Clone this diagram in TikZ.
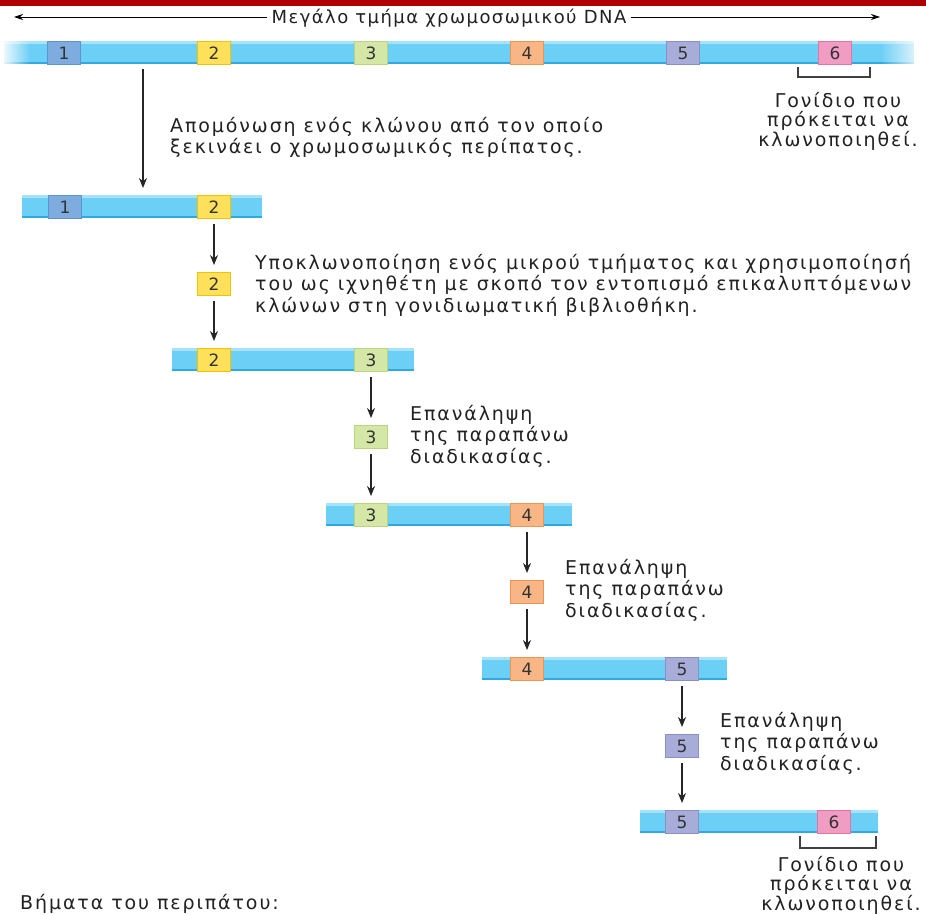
\documentclass[tikz,border=0pt]{standalone}
\usepackage{fontspec}
\setmainfont{DejaVu Sans}[LetterSpace=10]
\newfontfamily\labelfont{DejaVu Sans}[LetterSpace=8]
\newfontfamily\numfont{DejaVu Sans}
\usetikzlibrary{arrows.meta,fadings}
\definecolor{barblue}{HTML}{6CCFF6}
\definecolor{barhi}{HTML}{A6E3FA}
\definecolor{barlo}{HTML}{2FA9DE}
\definecolor{redtop}{HTML}{B00000}
\definecolor{numgray}{HTML}{333333}
\definecolor{txt}{HTML}{222222}
\definecolor{g1}{HTML}{7EACDF}\definecolor{g1d}{HTML}{5E93D3}
\definecolor{g2}{HTML}{FFE05A}\definecolor{g2d}{HTML}{F2C300}
\definecolor{g3}{HTML}{D5E7A6}\definecolor{g3d}{HTML}{B9D57E}
\definecolor{g4}{HTML}{F8B585}\definecolor{g4d}{HTML}{EF9450}
\definecolor{g5}{HTML}{A8ACD9}\definecolor{g5d}{HTML}{8A8FC6}
\definecolor{g6}{HTML}{F19CC2}\definecolor{g6d}{HTML}{E4739F}
\tikzfading[name=fadeLeft, left color=transparent!0, right color=transparent!100]
\tikzfading[name=fadeRight, left color=transparent!100, right color=transparent!0]
\newcommand{\dnabar}[3]{%
  \fill[barblue] (#1,#3) rectangle (#2,#3+23);
  \fill[barhi] (#1,#3) rectangle (#2,#3+3);
  \fill[barlo] (#1,#3+21) rectangle (#2,#3+23);}
\tikzset{
  gene/.style={minimum width=33pt, minimum height=23pt, inner sep=0pt,
    fill=g#1, draw=g#1d, line width=1pt, text=numgray, font=\numfont\fontsize{17}{20}\selectfont},
  arr/.style={draw=black!85, line width=1.2pt, -{Stealth[length=10pt,width=8pt]}, shorten <=5pt, shorten >=7pt},
  body/.style={text=txt, inner sep=0pt, font=\fontsize{19}{21.5}\selectfont},
  capt/.style={text=txt, inner sep=0pt, font=\fontsize{19}{19.5}\selectfont},
  brk/.style={draw=black!75, line width=1.1pt},
}
\begin{document}
\begin{tikzpicture}[x=1pt,y=-1pt]
\useasboundingbox (0,0) rectangle (926,915);
\fill[white] (0,0) rectangle (926,915);
\fill[redtop] (0,0) rectangle (926,6);
% top label
\node[font=\labelfont\fontsize{18}{20}\selectfont, text=txt, inner xsep=4pt, inner ysep=1pt] (toplbl) at (449,18) {Μεγάλο τμήμα χρωμοσωμικού DNA};
\coordinate (lt) at (14,17);
\coordinate (rt) at (880,17);
\draw[line width=0.9pt, -{Stealth[length=9pt,width=6pt]}] (toplbl.west |- lt) -- (lt);
\draw[line width=0.9pt, -{Stealth[length=9pt,width=6pt]}] (toplbl.east |- rt) -- (rt);
% top bar
\dnabar{0}{926}{41}
\node[gene=1] (t1) at (64,53) {1};
\node[gene=2] (t2) at (214,53) {2};
\node[gene=3] (t3) at (371,53) {3};
\node[gene=4] (t4) at (527,53) {4};
\node[gene=5] (t5) at (683,53) {5};
\node[gene=6] (t6) at (835,53) {6};
\fill[white, path fading=fadeLeft] (0,38) rectangle (30,68);
\fill[white, path fading=fadeRight] (880,38) rectangle (926,68);
\fill[white] (0,38) rectangle (4,68);
\fill[white] (914,38) rectangle (926,68);
\draw[brk] (798,67) -- (798,77) -- (870,77) -- (870,67);
\node[capt, align=center, anchor=north] (cap1) at (838,92) {Γονίδιο που\\πρόκειται να\\κλωνοποιηθεί.};
% step 1
\coordinate (a1s) at (143,64);
\coordinate (a1e) at (143,195);
\draw[arr] (a1s) -- (a1e);
\node[body, align=left, anchor=north west] (txt1) at (170,117) {Απομόνωση ενός κλώνου από τον οποίο\\ξεκινάει ο χρωμοσωμικός περίπατος.};
% bar 2
\dnabar{22}{262}{195}
\node[gene=1] (b2g1) at (65,207) {1};
\node[gene=2] (b2g2) at (214,207) {2};
\node[gene=2] (s2) at (214,284) {2};
\draw[arr] (b2g2) -- (s2);
\node[body, align=left, anchor=north west] (txt2) at (255,254) {Υποκλωνοποίηση ενός μικρού τμήματος και χρησιμοποίησή\\του ως ιχνηθέτη με σκοπό τον εντοπισμό επικαλυπτόμενων\\κλώνων στη γονιδιωματική βιβλιοθήκη.};
% bar 3
\dnabar{172}{414}{348}
\node[gene=2] (b3g2) at (214,360) {2};
\node[gene=3] (b3g3) at (371,360) {3};
\draw[arr] (s2) -- (b3g2);
\node[gene=3] (s3) at (371,437) {3};
\draw[arr] (b3g3) -- (s3);
\node[body, align=left, anchor=north west] (txt3) at (410,405) {Επανάληψη\\της παραπάνω\\διαδικασίας.};
% bar 4
\dnabar{326}{572}{503}
\node[gene=3] (b4g3) at (371,515) {3};
\node[gene=4] (b4g4) at (527,515) {4};
\draw[arr] (s3) -- (b4g3);
\node[gene=4] (s4) at (527,592) {4};
\draw[arr] (b4g4) -- (s4);
\node[body, align=left, anchor=north west] (txt4) at (565,559) {Επανάληψη\\της παραπάνω\\διαδικασίας.};
% bar 5
\dnabar{482}{727}{657}
\node[gene=4] (b5g4) at (527,669) {4};
\node[gene=5] (b5g5) at (682,669) {5};
\draw[arr] (s4) -- (b5g4);
\node[gene=5] (s5) at (682,746) {5};
\draw[arr] (b5g5) -- (s5);
\node[body, align=left, anchor=north west] (txt5) at (720,712) {Επανάληψη\\της παραπάνω\\διαδικασίας.};
% bar 6
\dnabar{640}{878}{810}
\node[gene=5] (b6g5) at (682,822) {5};
\node[gene=6] (b6g6) at (834,822) {6};
\draw[arr] (s5) -- (b6g5);
\draw[brk] (800,836) -- (800,848) -- (876,848) -- (876,836);
\node[capt, align=center, anchor=north] (cap2) at (841,856) {Γονίδιο που\\πρόκειται να\\κλωνοποιηθεί.};
\node[body, anchor=west] (steps) at (20,904) {Βήματα του περιπάτου:};
\end{tikzpicture}
\end{document}
